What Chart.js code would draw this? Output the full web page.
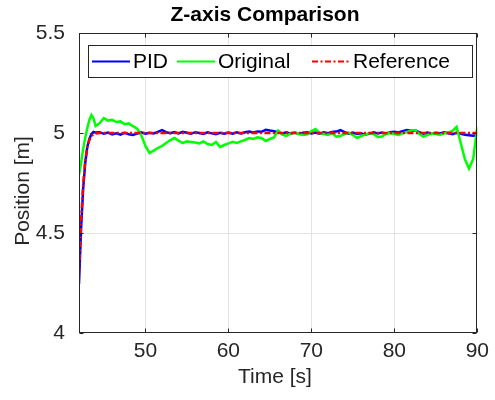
<!DOCTYPE html>
<html>
<head>
<meta charset="utf-8">
<script src="https://cdn.jsdelivr.net/npm/chart.js@4/dist/chart.umd.min.js"></script>
<style>
  html, body { margin: 0; padding: 0; background: #fff; }
  #wrap { width: 495px; height: 400px; }
</style>
</head>
<body>
<div id="wrap"><canvas id="c" width="495" height="400"></canvas></div>
<script>
// Sample times [s]
const timeS = [
  42, 42.25, 42.5, 42.75, 43, 43.25, 43.5, 43.75, 44,
  44.5, 45, 45.5, 46, 46.5, 47, 47.5, 48, 48.5, 49,
  49.5, 50, 50.5, 51, 51.5, 52, 52.5, 53, 53.5, 54,
  54.5, 55, 55.5, 56, 56.5, 57, 57.5, 58, 58.5, 59,
  59.5, 60, 60.5, 61, 61.5, 62, 62.5, 63, 63.5, 64,
  64.5, 65, 65.5, 66, 66.5, 67, 67.5, 68, 68.5, 69,
  69.5, 70, 70.5, 71, 71.5, 72, 72.5, 73, 73.5, 74,
  74.5, 75, 75.5, 76, 76.5, 77, 77.5, 78, 78.5, 79,
  79.5, 80, 80.5, 81, 81.5, 82, 82.5, 83, 83.5, 84,
  84.5, 85, 85.5, 86, 86.5, 87, 87.5, 88, 88.5, 89,
  89.5, 90
];

// Z position with the PID controller [m]
const pidZ = [
  4.245, 4.52, 4.72, 4.85, 4.93, 4.97, 4.995, 5.005, 5.002,
  5.004, 4.996, 5.002, 4.993, 4.998, 4.992, 5.001, 4.994, 4.990, 4.997,
  5.003, 4.996, 5.001, 4.998, 5.006, 5.014, 5.004, 4.999, 5.005, 4.998,
  5.006, 5.001, 4.996, 5.004, 5.000, 4.995, 5.003, 4.998, 4.994, 5.001,
  4.996, 5.002, 4.997, 5.003, 4.998, 5.004, 5.007, 5.003, 5.008, 5.006,
  5.016, 5.012, 5.009, 5.004, 4.998, 5.003, 4.996, 5.002, 4.995, 5.001,
  5.004, 4.998, 5.002, 4.996, 5.003, 4.999, 5.005, 5.007, 5.014, 5.004,
  4.997, 5.002, 4.995, 4.999, 4.991, 4.997, 5.003, 4.998, 5.002, 4.997,
  5.004, 5.006, 5.003, 5.009, 5.015, 5.011, 5.013, 5.004, 4.997, 5.002,
  4.995, 5.001, 4.998, 5.004, 4.999, 4.994, 5.001, 4.996, 4.991, 4.989,
  4.986, 4.990
];

// Z position with the original controller [m]
const originalZ = [
  4.79, 4.85, 4.92, 4.975, 5.025, 5.065, 5.09, 5.072, 5.035,
  5.050, 5.074, 5.062, 5.066, 5.055, 5.058, 5.044, 5.048, 5.034, 5.022,
  4.990, 4.935, 4.900, 4.912, 4.925, 4.935, 4.950, 4.965, 4.975, 4.962,
  4.950, 4.958, 4.955, 4.952, 4.948, 4.958, 4.945, 4.940, 4.955, 4.930,
  4.940, 4.948, 4.956, 4.950, 4.958, 4.965, 4.975, 4.970, 4.978, 4.975,
  4.960, 4.970, 4.978, 5.012, 4.992, 4.985, 4.998, 5.002, 4.995, 4.990,
  4.993, 5.010, 5.020, 5.000, 4.995, 4.990, 5.000, 4.982, 4.985, 4.995,
  5.002, 4.990, 4.975, 4.985, 4.992, 5.000, 4.995, 4.980, 4.982, 4.995,
  5.000, 4.995, 4.990, 4.998, 5.005, 5.012, 5.015, 4.995, 4.982, 4.990,
  4.998, 4.995, 4.990, 4.998, 5.002, 5.010, 5.030, 4.950, 4.870, 4.822,
  4.870, 5.030
];

// Reference Z position [m]
const referenceZ = [
  4.30, 4.56, 4.74, 4.86, 4.93, 4.965, 4.985, 4.994, 4.998,
  5, 5, 5, 5, 5, 5, 5, 5, 5, 5,
  5, 5, 5, 5, 5, 5, 5, 5, 5, 5,
  5, 5, 5, 5, 5, 5, 5, 5, 5, 5,
  5, 5, 5, 5, 5, 5, 5, 5, 5, 5,
  5, 5, 5, 5, 5, 5, 5, 5, 5, 5,
  5, 5, 5, 5, 5, 5, 5, 5, 5, 5,
  5, 5, 5, 5, 5, 5, 5, 5, 5, 5,
  5, 5, 5, 5, 5, 5, 5, 5, 5, 5,
  5, 5, 5, 5, 5, 5, 5, 5, 5, 5,
  5, 5
];

const seriesNames = ['PID', 'Original', 'Reference'];
const xTicks = [50, 60, 70, 80, 90];
const yTicks = [4, 4.5, 5, 5.5];
const titleText = 'Z-axis Comparison';
const xLabel = 'Time [s]';
const yLabel = 'Position [m]';

const FONT = "'Liberation Sans', Arial, Helvetica, sans-serif";
const AXIS_COLOR = '#262626';
const GRID_COLOR = '#e3e3e3';

const toPoints = arr => timeS.map((t, i) => ({ x: t, y: arr[i] }));

// Title, axis labels, axes box with inward ticks and the boxed legend
const framePlugin = {
  id: 'frame',
  afterDraw(chart) {
    const { ctx, chartArea: a, scales: { x, y } } = chart;
    ctx.save();

    const L = Math.round(a.left) + 0.5, R = Math.round(a.right) - 0.5;
    const T = Math.round(a.top) + 0.5, B = Math.round(a.bottom) - 0.5;
    ctx.strokeStyle = AXIS_COLOR;
    ctx.lineWidth = 1;
    ctx.setLineDash([]);
    ctx.strokeRect(L, T, R - L, B - T);
    ctx.beginPath();
    xTicks.forEach(v => {
      const px = Math.round(x.getPixelForValue(v)) + 0.5;
      ctx.moveTo(px, B); ctx.lineTo(px, B - 4);
      ctx.moveTo(px, T); ctx.lineTo(px, T + 4);
    });
    yTicks.forEach(v => {
      const py = Math.round(y.getPixelForValue(v)) + 0.5;
      ctx.moveTo(L, py); ctx.lineTo(L + 4, py);
      ctx.moveTo(R, py); ctx.lineTo(R - 4, py);
    });
    ctx.stroke();

    // title
    ctx.fillStyle = '#000';
    ctx.font = 'bold 21px ' + FONT;
    ctx.textAlign = 'center';
    ctx.textBaseline = 'alphabetic';
    ctx.fillText(titleText, 265, 21);

    // axis labels
    ctx.fillStyle = AXIS_COLOR;
    ctx.font = '21px ' + FONT;
    ctx.fillText(xLabel, 275, 383);
    ctx.save();
    ctx.translate(29, 191);
    ctx.rotate(-Math.PI / 2);
    ctx.fillText(yLabel, 0, 0);
    ctx.restore();

    // legend
    const box = { l: 88.5, t: 45.5, r: 472.5, b: 77.5 };
    ctx.fillStyle = '#fff';
    ctx.fillRect(box.l, box.t, box.r - box.l, box.b - box.t);
    ctx.strokeStyle = AXIS_COLOR;
    ctx.strokeRect(box.l, box.t, box.r - box.l, box.b - box.t);
    const lineStarts = [92, 177, 312];
    const cy = 61.5;
    chart.data.datasets.forEach((ds, i) => {
      const x0 = lineStarts[i];
      ctx.strokeStyle = ds.borderColor;
      ctx.lineWidth = 2;
      ctx.setLineDash(ds.borderDash || []);
      ctx.beginPath();
      ctx.moveTo(x0, cy); ctx.lineTo(x0 + 38, cy);
      ctx.stroke();
      ctx.setLineDash([]);
      ctx.fillStyle = '#000';
      ctx.font = '21px ' + FONT;
      ctx.textAlign = 'left';
      ctx.textBaseline = 'middle';
      ctx.fillText(ds.label, x0 + 41, cy + 1);
    });
    ctx.restore();
  }
};

new Chart(document.getElementById('c'), {
  type: 'line',
  data: {
    datasets: [
      { label: seriesNames[0], data: toPoints(pidZ), borderColor: '#0000ff', borderWidth: 2.5, order: 3 },
      { label: seriesNames[1], data: toPoints(originalZ), borderColor: '#00ff00', borderWidth: 2.5, order: 2 },
      { label: seriesNames[2], data: toPoints(referenceZ), borderColor: '#ff0000', borderWidth: 2.5,
        borderDash: [6, 2.5, 2, 2.5], order: 1 }
    ]
  },
  options: {
    responsive: false,
    animation: false,
    devicePixelRatio: 1,
    parsing: false,
    elements: { point: { radius: 0 }, line: { tension: 0, fill: false } },
    layout: { padding: { left: 0, right: 10, top: 33, bottom: 0 } },
    plugins: { legend: { display: false }, title: { display: false }, tooltip: { enabled: false } },
    scales: {
      x: {
        type: 'linear', min: 42, max: 90,
        afterBuildTicks: s => { s.ticks = xTicks.map(v => ({ value: v })); },
        afterFit: s => { s.height = 67; },
        grid: { color: c => (c.tick && c.tick.value === 90 ? 'rgba(0,0,0,0)' : GRID_COLOR), drawTicks: false },
        border: { display: false },
        ticks: { color: AXIS_COLOR, font: { family: FONT, size: 21 }, padding: 6, maxRotation: 0, autoSkip: false,
                 callback: v => String(v) }
      },
      y: {
        type: 'linear', min: 4, max: 5.5,
        afterBuildTicks: s => { s.ticks = yTicks.map(v => ({ value: v })); },
        afterFit: s => { s.width = 79; },
        grid: { color: c => (c.tick && (c.tick.value === 4 || c.tick.value === 5.5) ? 'rgba(0,0,0,0)' : GRID_COLOR), drawTicks: false },
        border: { display: false },
        ticks: { color: AXIS_COLOR, font: { family: FONT, size: 21 }, padding: 14, autoSkip: false,
                 callback: v => String(v) }
      }
    }
  },
  plugins: [framePlugin]
});
</script>
</body>
</html>
